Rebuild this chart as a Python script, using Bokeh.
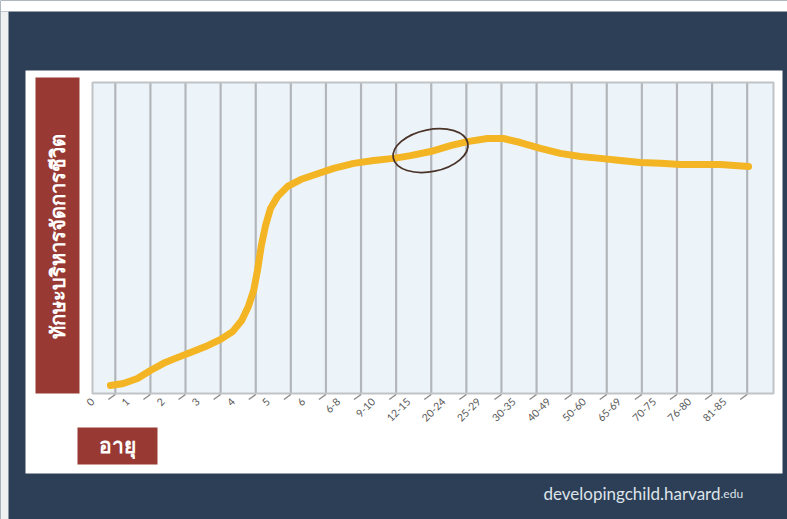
from math import pi
from bokeh.plotting import figure
from bokeh.models import Range1d, LinearAxis, FixedTicker
from bokeh.core.properties import value
from bokeh.embed import file_html
from bokeh.resources import INLINE

# ---------------- data ----------------
age_labels = ["0", "1", "2", "3", "4", "5", "6", "6-8", "9-10", "12-15",
              "20-24", "25-29", "30-35", "40-49", "50-60", "65-69",
              "70-75", "76-80", "81-85"]

# position along the age axis (label index units) and skill level (0-100)
curve_x = [0.51, 0.88, 1.28, 1.65, 2.02, 2.36, 2.79, 3.22, 3.65, 3.99,
           4.25, 4.44, 4.59, 4.70, 4.81, 4.93, 5.07, 5.27, 5.56, 5.93,
           6.35, 6.87, 7.44, 8.01, 8.58, 9.06, 9.63, 10.20, 10.68, 11.25,
           11.71, 12.19, 12.76, 13.33, 13.90, 14.47, 15.04, 15.61, 16.18,
           16.75, 17.32, 17.89, 18.69]
curve_y = [2.6, 3.2, 4.8, 7.4, 9.7, 11.3, 13.2, 15.1, 17.4, 19.9,
           23.5, 28.0, 33.1, 39.6, 47.6, 54.0, 59.5, 63.3, 66.6, 68.8,
           70.4, 72.4, 74.0, 74.9, 75.6, 76.5, 77.8, 79.7, 81.0, 82.0,
           82.0, 80.7, 78.8, 77.2, 76.2, 75.6, 74.9, 74.3, 74.0,
           73.6, 73.6, 73.6, 73.0]

highlight_x = [9.63]
highlight_y = [78.1]

y_title = "ทักษะบริหารจัดการชีวิต"
x_title = "อายุ"
source_main = "developingchild.harvard"
source_suffix = ".edu"

# ---------------- layout ----------------
W, H = 787, 519
CH_L, CH_R, CH_T, CH_B = 92, 773, 82, 393
X_MAX, Y_MAX = 19.4, 100.0
sx = (CH_R - CH_L) / X_MAX
sy = (CH_B - CH_T) / Y_MAX


def gx(px):
    return (px - CH_L) / sx


def gy(py):
    return (CH_B - py) / sy


NAVY = "#2c3f56"
RED = "#983a33"
GOLD = "#f3b523"

p = figure(width=W, height=H, x_range=Range1d(gx(0), gx(W)),
           y_range=Range1d(gy(H), gy(0)), x_axis_type=None, y_axis_type=None,
           toolbar_location=None, output_backend="svg", min_border=0,
           min_border_left=0, min_border_right=0, min_border_top=0,
           min_border_bottom=0, outline_line_color=None,
           background_fill_color=NAVY, border_fill_color=NAVY)

# page strips and white panel
p.quad(left=[gx(0)], right=[gx(W)], top=[gy(0)], bottom=[gy(11)],
       fill_color="white", line_color=None)
p.quad(left=[gx(0)], right=[gx(8)], top=[gy(11)], bottom=[gy(H)],
       fill_color="#eef0f2", line_color=None)
p.quad(left=[gx(25)], right=[gx(782)], top=[gy(70)], bottom=[gy(473)],
       fill_color="white", line_color=None)

# chart area
p.quad(left=[0], right=[X_MAX], top=[Y_MAX], bottom=[0],
       fill_color="#edf4f9", line_color=None)
grid_pos = [i + 0.65 for i in range(len(age_labels))]
p.segment(x0=grid_pos, y0=[0] * len(grid_pos), x1=grid_pos,
          y1=[Y_MAX] * len(grid_pos), line_color="#b2b6ba", line_width=2.2)
p.quad(left=[0], right=[X_MAX], top=[Y_MAX], bottom=[0],
       fill_color=None, line_color="#bfc3c6", line_width=2)
# slanted tick dashes
p.segment(x0=grid_pos, y0=[gy(CH_B + 1)] * len(grid_pos),
          x1=[g - 7 / sx for g in grid_pos], y1=[gy(CH_B + 6)] * len(grid_pos),
          line_color="#8c8c8c", line_width=1.5)

# x axis with age labels
ax = LinearAxis(ticker=FixedTicker(ticks=list(range(len(age_labels)))),
                major_label_overrides={i: lab for i, lab in enumerate(age_labels)},
                fixed_location=0, major_label_orientation=pi / 4,
                axis_line_color=None, major_tick_line_color=None,
                minor_tick_line_color=None, major_tick_in=0, major_tick_out=0,
                major_label_standoff=6,
                major_label_text_font="Lato",
                major_label_text_font_size="10.5px",
                major_label_text_color="#5a5a5a")
p.add_layout(ax, "below")

# red label boxes
p.quad(left=[gx(35)], right=[gx(79)], top=[gy(77)], bottom=[gy(393)],
       fill_color=RED, line_color=None)
p.quad(left=[gx(77)], right=[gx(157)], top=[gy(427)], bottom=[gy(464)],
       fill_color=RED, line_color=None)
p.text(x=[gx(57)], y=[gy(236)], text=[y_title], angle=pi / 2,
       text_align="center", text_baseline="middle", text_color="white",
       text_font=value("Noto Sans"), text_font_style="bold",
       text_font_size="20px")
p.text(x=[gx(117)], y=[gy(444)], text=[x_title],
       text_align="center", text_baseline="middle", text_color="white",
       text_font=value("Noto Sans"), text_font_style="bold",
       text_font_size="21px")

# footer
p.text(x=[gx(720)], y=[gy(493)], text=[source_main], text_align="right",
       text_baseline="alphabetic", text_color="#dde3ea",
       text_font=value("Lato"), text_font_size="17px")
p.text(x=[gx(720)], y=[gy(493)], text=[source_suffix], text_align="left",
       text_baseline="alphabetic", text_color="#dde3ea",
       text_font=value("Lato"), text_font_size="12px")

# curve and highlight
p.line(curve_x, curve_y, line_color=GOLD, line_width=7,
       line_cap="round", line_join="round")
p.ellipse(x=highlight_x, y=highlight_y, width=76, height=42,
          width_units="screen", height_units="screen", angle=0.2,
          fill_color=None, line_color="#4a3328", line_width=1.8)

open("out.html", "w").write(file_html(p, INLINE))
